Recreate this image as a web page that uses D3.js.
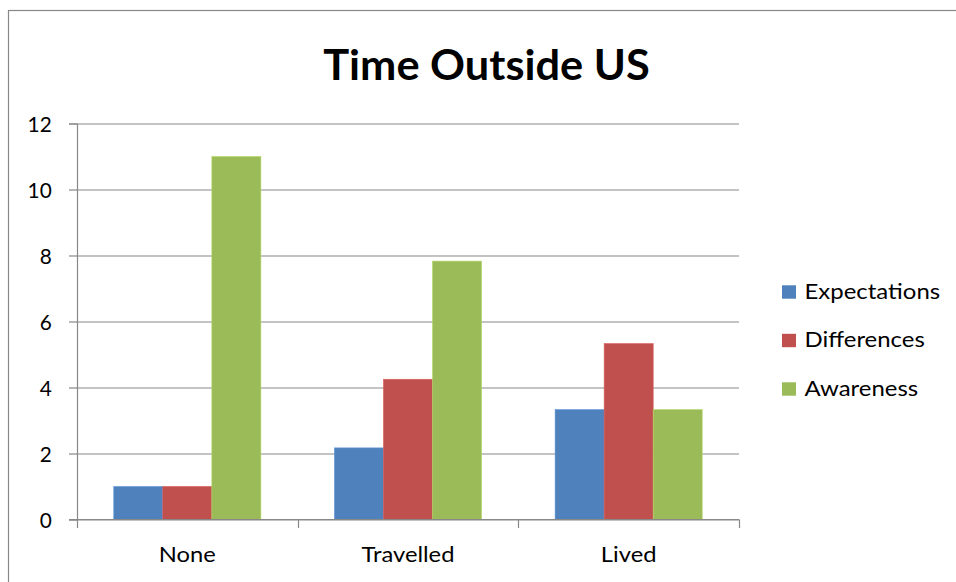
<!DOCTYPE html>
<html>
<head>
<meta charset="utf-8">
<script src="https://cdn.jsdelivr.net/npm/d3@7"></script>
<style>
  html, body { margin: 0; padding: 0; background: #fff; }
  svg { display: block; font-family: Lato, "Open Sans", sans-serif; }
</style>
</head>
<body>
<svg id="chart" width="956" height="582"></svg>
<script>
// Chart data
const categories = ["None", "Travelled", "Lived"];
const seriesNames = ["Expectations", "Differences", "Awareness"];
const expectations = [1, 2.17, 3.33];
const differences = [1, 4.25, 5.33];
const awareness = [11, 7.83, 3.33];
const yTicks = [0, 2, 4, 6, 8, 10, 12];
const seriesColors = ["#4F81BD", "#C0504D", "#9BBB59"];
const titleText = "Time Outside US";

const seriesValues = [expectations, differences, awareness];
const rows = categories.map((c, i) => ({
  category: c,
  values: seriesNames.map((s, j) => ({ series: s, value: seriesValues[j][i], color: seriesColors[j] }))
}));

const svg = d3.select("#chart");
const gridColor = "#888888";
const fontFamily = "Lato, 'Open Sans', sans-serif";

// Widen a text selection horizontally by a factor, keeping its glyph height
function widen(sel, factor) {
  sel.each(function () {
    const w = this.getComputedTextLength();
    d3.select(this).attr("textLength", w * factor).attr("lengthAdjust", "spacingAndGlyphs");
  });
}

// Outer chart frame
svg.append("rect")
  .attr("x", 8.5).attr("y", 10.5)
  .attr("width", 1200).attr("height", 1200)
  .attr("fill", "none").attr("stroke", gridColor).attr("stroke-width", 1.2);

const plot = { left: 77, right: 739, top: 123.5, bottom: 519.5 };

const x0 = d3.scaleBand().domain(categories).range([plot.left, plot.right]).padding(0);
const x1 = d3.scaleBand().domain(seriesNames).range([0, x0.bandwidth()])
  .paddingInner(0).paddingOuter(0.75);
const y = d3.scaleLinear().domain([0, 12]).range([plot.bottom, plot.top]);

// Horizontal gridlines with left tick marks
const yAxis = d3.axisLeft(y).tickValues(yTicks).tickSize(8).tickPadding(17.3).tickFormat(d3.format("d"));
const gy = svg.append("g").attr("transform", `translate(${plot.left},0)`).call(yAxis);
gy.select(".domain").attr("stroke", gridColor).attr("stroke-width", 1.2);
gy.selectAll(".tick line").attr("stroke", gridColor).attr("stroke-width", 1.2);
gy.selectAll(".tick").append("line")
  .attr("x1", 0).attr("x2", plot.right - plot.left)
  .attr("stroke", gridColor).attr("stroke-width", 1.2);
gy.selectAll(".tick text")
  .attr("font-family", fontFamily)
  .attr("font-size", 20.8).attr("fill", "#000").attr("dy", "0.37em");

// Bars
const groups = svg.append("g").selectAll("g").data(rows).join("g")
  .attr("transform", d => `translate(${x0(d.category)},0)`);
groups.selectAll("rect").data(d => d.values).join("rect")
  .attr("x", d => x1(d.series))
  .attr("width", x1.bandwidth())
  .attr("y", d => y(d.value))
  .attr("height", d => y(0) - y(d.value))
  .attr("fill", d => d.color)
  .attr("stroke", d => d3.color(d.color).brighter(0.4))
  .attr("stroke-width", 0.6);

// Category axis drawn over the bars
const xAxis = d3.axisBottom(x0).tickSize(0).tickPadding(0);
const gx = svg.append("g").attr("transform", `translate(0,${plot.bottom})`).call(xAxis);
gx.select(".domain").remove();
gx.selectAll(".tick text")
  .attr("font-family", fontFamily)
  .attr("font-size", 21).attr("fill", "#000")
  .attr("y", 42).attr("dy", 0)
  .call(widen, 1.13);
svg.append("line")
  .attr("x1", plot.left - 8).attr("x2", plot.right)
  .attr("y1", plot.bottom).attr("y2", plot.bottom)
  .attr("stroke", gridColor).attr("stroke-width", 1.2);
const boundaries = categories.map(c => x0(c)).concat([plot.right]);
svg.append("g").selectAll("line").data(boundaries).join("line")
  .attr("x1", d => Math.round(d) + 0.5).attr("x2", d => Math.round(d) + 0.5)
  .attr("y1", plot.bottom).attr("y2", plot.bottom + 8.5)
  .attr("stroke", gridColor).attr("stroke-width", 1.2);

// Title
svg.append("text")
  .attr("x", 486.5).attr("y", 80)
  .attr("text-anchor", "middle")
  .attr("font-family", fontFamily)
  .attr("font-weight", "bold").attr("font-size", 42.5)
  .attr("fill", "#000")
  .text(titleText)
  .call(widen, 1.02);

// Legend
const legend = svg.append("g").attr("transform", "translate(782,285.3)");
const items = legend.selectAll("g").data(seriesNames).join("g")
  .attr("transform", (d, i) => `translate(0,${i * 48.5})`);
items.append("rect")
  .attr("width", 14).attr("height", 13.4)
  .attr("fill", (d, i) => seriesColors[i]);
items.append("text")
  .attr("x", 22.5).attr("y", 13.3)
  .attr("font-family", fontFamily)
  .attr("font-size", 21).attr("fill", "#000")
  .text(d => d)
  .call(widen, 1.14);
</script>
</body>
</html>
